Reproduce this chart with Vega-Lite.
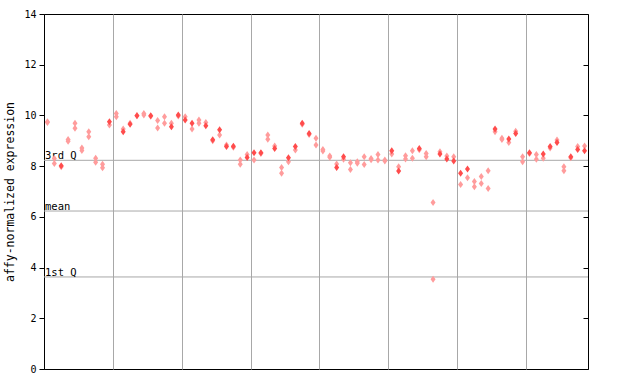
{
  "$schema": "https://vega.github.io/schema/vega-lite/v6.json",
  "autosize": "none",
  "width": 544,
  "height": 355,
  "padding": {"left": 44, "top": 14, "right": 52, "bottom": 15},
  "background": "white",
  "config": {
    "view": {"stroke": "black", "strokeWidth": 1},
    "font": "DejaVu Sans Mono",
    "axis": {"labelFont": "DejaVu Sans Mono", "titleFont": "DejaVu Sans Mono", "labelColor": "black", "titleColor": "black", "tickColor": "black", "domainColor": "black", "titleFontWeight": "normal"}
  },
  "datasets": {
    "refs": [
      {"label": "3rd Q", "v": 8.23},
      {"label": "mean", "v": 6.23},
      {"label": "1st Q", "v": 3.63}
    ],
    "pts": [
      {"i":0,"v":9.75,"k":"light"},{"i":0,"v":9.72,"k":"light"},
      {"i":1,"v":8.3,"k":"light"},{"i":1,"v":8.1,"k":"light"},
      {"i":2,"v":8.02,"k":"solid"},{"i":2,"v":7.98,"k":"light"},
      {"i":3,"v":9.05,"k":"light"},{"i":3,"v":8.98,"k":"light"},
      {"i":4,"v":9.69,"k":"light"},{"i":4,"v":9.49,"k":"light"},
      {"i":5,"v":8.72,"k":"light"},{"i":5,"v":8.62,"k":"light"},
      {"i":6,"v":9.36,"k":"light"},{"i":6,"v":9.16,"k":"light"},
      {"i":7,"v":8.31,"k":"light"},{"i":7,"v":8.15,"k":"light"},
      {"i":8,"v":8.07,"k":"light"},{"i":8,"v":7.94,"k":"light"},
      {"i":9,"v":9.75,"k":"solid"},{"i":9,"v":9.62,"k":"light"},
      {"i":10,"v":10.08,"k":"light"},{"i":10,"v":9.95,"k":"light"},
      {"i":11,"v":9.36,"k":"solid"},{"i":11,"v":9.46,"k":"light"},
      {"i":12,"v":9.65,"k":"solid"},{"i":12,"v":9.69,"k":"light"},
      {"i":13,"v":9.99,"k":"solid"},{"i":13,"v":10.0,"k":"light"},
      {"i":14,"v":10.08,"k":"light"},{"i":14,"v":10.02,"k":"light"},
      {"i":15,"v":9.99,"k":"solid"},{"i":15,"v":9.97,"k":"light"},
      {"i":16,"v":9.8,"k":"light"},{"i":16,"v":9.5,"k":"light"},
      {"i":17,"v":9.95,"k":"light"},{"i":17,"v":9.69,"k":"light"},
      {"i":18,"v":9.55,"k":"solid"},{"i":18,"v":9.69,"k":"light"},
      {"i":19,"v":10.02,"k":"solid"},{"i":19,"v":9.98,"k":"light"},
      {"i":20,"v":9.82,"k":"solid"},{"i":20,"v":9.95,"k":"light"},
      {"i":21,"v":9.69,"k":"solid"},{"i":21,"v":9.46,"k":"light"},
      {"i":22,"v":9.82,"k":"light"},{"i":22,"v":9.69,"k":"light"},
      {"i":23,"v":9.59,"k":"solid"},{"i":23,"v":9.72,"k":"light"},
      {"i":24,"v":9.04,"k":"solid"},{"i":24,"v":9.0,"k":"light"},
      {"i":25,"v":9.44,"k":"solid"},{"i":25,"v":9.23,"k":"light"},
      {"i":26,"v":8.77,"k":"solid"},{"i":26,"v":8.83,"k":"light"},
      {"i":27,"v":8.78,"k":"solid"},{"i":27,"v":8.75,"k":"light"},
      {"i":28,"v":8.24,"k":"light"},{"i":28,"v":8.07,"k":"light"},
      {"i":29,"v":8.34,"k":"solid"},{"i":29,"v":8.46,"k":"light"},
      {"i":30,"v":8.53,"k":"solid"},{"i":30,"v":8.24,"k":"light"},
      {"i":31,"v":8.53,"k":"solid"},{"i":31,"v":8.5,"k":"light"},
      {"i":32,"v":9.23,"k":"light"},{"i":32,"v":9.06,"k":"light"},
      {"i":33,"v":8.7,"k":"solid"},{"i":33,"v":8.79,"k":"light"},
      {"i":34,"v":7.95,"k":"light"},{"i":34,"v":7.72,"k":"light"},
      {"i":35,"v":8.33,"k":"solid"},{"i":35,"v":8.17,"k":"light"},
      {"i":36,"v":8.77,"k":"solid"},{"i":36,"v":8.64,"k":"light"},
      {"i":37,"v":9.69,"k":"solid"},{"i":37,"v":9.65,"k":"light"},
      {"i":38,"v":9.29,"k":"solid"},{"i":38,"v":9.25,"k":"light"},
      {"i":39,"v":9.1,"k":"light"},{"i":39,"v":8.83,"k":"light"},
      {"i":40,"v":8.66,"k":"light"},{"i":40,"v":8.6,"k":"light"},
      {"i":41,"v":8.4,"k":"light"},{"i":41,"v":8.35,"k":"light"},
      {"i":42,"v":7.95,"k":"solid"},{"i":42,"v":8.08,"k":"light"},
      {"i":43,"v":8.37,"k":"solid"},{"i":43,"v":8.27,"k":"light"},
      {"i":44,"v":8.13,"k":"light"},{"i":44,"v":7.87,"k":"light"},
      {"i":45,"v":8.17,"k":"light"},{"i":45,"v":8.11,"k":"light"},
      {"i":46,"v":8.37,"k":"light"},{"i":46,"v":8.06,"k":"light"},
      {"i":47,"v":8.3,"k":"light"},{"i":47,"v":8.25,"k":"light"},
      {"i":48,"v":8.46,"k":"light"},{"i":48,"v":8.24,"k":"light"},
      {"i":49,"v":8.24,"k":"light"},{"i":49,"v":8.2,"k":"light"},
      {"i":50,"v":8.61,"k":"solid"},{"i":50,"v":8.48,"k":"light"},
      {"i":51,"v":7.81,"k":"solid"},{"i":51,"v":7.98,"k":"light"},
      {"i":52,"v":8.41,"k":"light"},{"i":52,"v":8.28,"k":"light"},
      {"i":53,"v":8.61,"k":"light"},{"i":53,"v":8.31,"k":"light"},
      {"i":54,"v":8.7,"k":"solid"},{"i":54,"v":8.65,"k":"light"},
      {"i":55,"v":8.5,"k":"light"},{"i":55,"v":8.37,"k":"light"},
      {"i":56,"v":6.57,"k":"light"},{"i":56,"v":3.54,"k":"light"},
      {"i":57,"v":8.48,"k":"solid"},{"i":57,"v":8.57,"k":"light"},
      {"i":58,"v":8.28,"k":"solid"},{"i":58,"v":8.4,"k":"light"},
      {"i":59,"v":8.2,"k":"solid"},{"i":59,"v":8.37,"k":"light"},
      {"i":60,"v":7.72,"k":"solid"},{"i":60,"v":7.28,"k":"light"},
      {"i":61,"v":7.89,"k":"solid"},{"i":61,"v":7.54,"k":"light"},
      {"i":62,"v":7.39,"k":"light"},{"i":62,"v":7.19,"k":"light"},
      {"i":63,"v":7.59,"k":"light"},{"i":63,"v":7.32,"k":"light"},
      {"i":64,"v":7.82,"k":"light"},{"i":64,"v":7.12,"k":"light"},
      {"i":65,"v":9.46,"k":"solid"},{"i":65,"v":9.36,"k":"light"},
      {"i":66,"v":9.1,"k":"light"},{"i":66,"v":9.05,"k":"light"},
      {"i":67,"v":9.07,"k":"solid"},{"i":67,"v":8.93,"k":"light"},
      {"i":68,"v":9.29,"k":"solid"},{"i":68,"v":9.38,"k":"light"},
      {"i":69,"v":8.37,"k":"light"},{"i":69,"v":8.17,"k":"light"},
      {"i":70,"v":8.53,"k":"solid"},{"i":70,"v":8.5,"k":"light"},
      {"i":71,"v":8.46,"k":"light"},{"i":71,"v":8.27,"k":"light"},
      {"i":72,"v":8.48,"k":"solid"},{"i":72,"v":8.31,"k":"light"},
      {"i":73,"v":8.77,"k":"solid"},{"i":73,"v":8.72,"k":"light"},
      {"i":74,"v":8.93,"k":"solid"},{"i":74,"v":9.03,"k":"light"},
      {"i":75,"v":7.98,"k":"light"},{"i":75,"v":7.82,"k":"light"},
      {"i":76,"v":8.37,"k":"solid"},{"i":76,"v":8.33,"k":"light"},
      {"i":77,"v":8.66,"k":"solid"},{"i":77,"v":8.77,"k":"light"},
      {"i":78,"v":8.61,"k":"solid"},{"i":78,"v":8.79,"k":"light"}
    ]
  },
  "layer": [
    {
      "data": {"name": "refs"},
      "mark": {"type": "rule", "color": "#a8a8a8", "strokeWidth": 1},
      "encoding": {
        "y": {"field": "v", "type": "quantitative", "scale": {"domain": [0, 14], "nice": false, "zero": false},
          "axis": {"values": [0, 2, 4, 6, 8, 10, 12, 14], "grid": false, "title": "affy-normalized expression", "titleFontSize": 11.5, "labelFontSize": 10, "tickSize": 5, "labelPadding": 3, "titlePadding": 8}}
      }
    },
    {
      "data": {"name": "refs"},
      "mark": {"type": "text", "align": "left", "baseline": "alphabetic", "dx": 1, "dy": -1, "fontSize": 10.5, "font": "DejaVu Sans Mono", "color": "black"},
      "encoding": {
        "x": {"datum": -0.5, "type": "quantitative", "scale": {"domain": [-0.5, 78.5], "nice": false, "zero": false},
          "axis": {"values": [9.5, 19.5, 29.5, 39.5, 49.5, 59.5, 69.5], "grid": true, "gridColor": "#a8a8a8", "gridOpacity": 1, "gridWidth": 1, "labels": false, "ticks": false, "domain": false, "title": null}},
        "y": {"field": "v", "type": "quantitative", "scale": {"domain": [0, 14], "nice": false, "zero": false}, "axis": null},
        "text": {"field": "label"}
      }
    },
    {
      "data": {"name": "pts"},
      "mark": {"type": "point", "filled": true, "opacity": 1, "shape": "M0,-1.4L1,0L0,1.4L-1,0Z", "size": 25},
      "encoding": {
        "x": {"field": "i", "type": "quantitative", "scale": {"domain": [-0.5, 78.5], "nice": false, "zero": false},
          "axis": {"values": [9.5, 19.5, 29.5, 39.5, 49.5, 59.5, 69.5], "grid": true, "gridColor": "#a8a8a8", "gridOpacity": 1, "gridWidth": 1, "labels": false, "ticks": false, "domain": false, "title": null}},
        "y": {"field": "v", "type": "quantitative", "scale": {"domain": [0, 14], "nice": false, "zero": false},
          "axis": {"orient": "right", "values": [0, 2, 4, 6, 8, 10, 12, 14], "labels": false, "grid": false, "ticks": true, "tickSize": 5, "offset": -5, "domain": false, "title": null}},
        "color": {"field": "k", "type": "nominal", "scale": {"domain": ["light", "solid"], "range": ["#ff9c9c", "#ff4c4c"]}, "legend": null},
        "order": {"field": "k", "sort": "ascending"}
      }
    }
  ],
  "resolve": {"scale": {"y": "independent"}, "axis": {"y": "independent"}}
}
